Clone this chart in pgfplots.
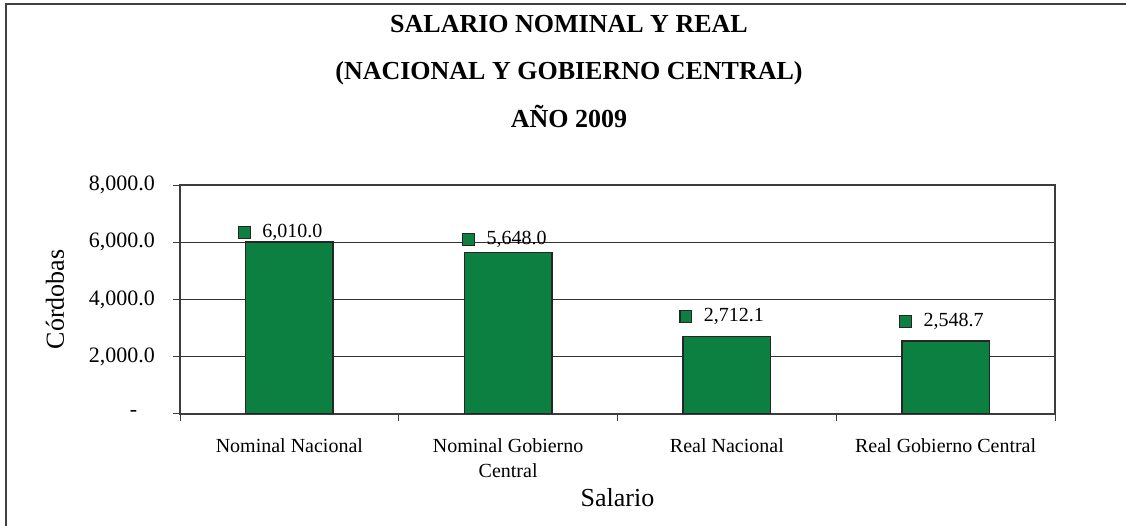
\documentclass[border=0pt]{standalone}
\usepackage{pgfplots}
\pgfplotsset{compat=1.18}
\usepackage{fontspec}
\setmainfont{Liberation Serif}
\definecolor{barg}{RGB}{11,128,64}
\definecolor{frm}{RGB}{60,60,60}
\newcommand{\keybox}{{\setlength{\fboxsep}{0pt}\setlength{\fboxrule}{1.3pt}\fcolorbox{black!85}{barg}{\phantom{\rule{10.5pt}{10.5pt}}}}}
\begin{document}
\begin{tikzpicture}[x=1pt,y=1pt]
\useasboundingbox (0,0) rectangle (1126,526);
\draw[black!75, line width=2.5pt] (6,-5) -- (6,522) -- (1131,522);
\node[anchor=base, font=\fontsize{26}{30}\selectfont\bfseries] at (569,493) {SALARIO NOMINAL Y REAL};
\node[anchor=base, font=\fontsize{26}{30}\selectfont\bfseries] at (569,446) {(NACIONAL Y GOBIERNO CENTRAL)};
\node[anchor=base, font=\fontsize{26}{30}\selectfont\bfseries] at (569,398) {AÑO 2009};
\begin{axis}[at={(180pt,112pt)}, anchor=south west, scale only axis,
  width=875pt, height=229pt,
  xmin=-0.5, xmax=3.5, ymin=0, ymax=8000,
  xtick={0,1,2,3},
  xticklabels={Nominal Nacional, {Nominal Gobierno\\Central}, Real Nacional, Real Gobierno Central},
  minor xtick={-0.5,0.5,1.5,2.5,3.5},
  ytick={0,2000,4000,6000,8000},
  yticklabels={{\makebox[25pt][l]{-}}, {2,000.0}, {4,000.0}, {6,000.0}, {8,000.0}},
  tick align=outside, xtick pos=left, ytick pos=left,
  major x tick style={draw=none},
  major tick length=7pt, minor tick length=7pt,
  ymajorgrids, grid style={black!80, line width=0.8pt},
  axis line style={frm, line width=1.2pt},
  tick style={frm, line width=1pt},
  xticklabel style={font=\fontsize{20}{25}\selectfont, align=center, inner sep=0pt, anchor=north, yshift=-17pt},
  yticklabel style={font=\fontsize{22}{26}\selectfont, inner sep=0pt, anchor=east, xshift=-18pt},
  xlabel={Salario}, ylabel={Córdobas},
  xlabel style={font=\fontsize{26}{30}\selectfont, at={(axis description cs:0.5,0)}, anchor=base, yshift=-93pt},
  ylabel style={font=\fontsize{26}{30}\selectfont, at={(axis description cs:0,0.5)}, anchor=center, yshift=125pt},
]
\addplot[ybar, bar width=0.4, fill=barg, draw=black!85, line width=1.3pt]
  coordinates {(0,6010) (1,5648) (2,2712.1) (3,2548.7)};
\addplot[draw=none, mark=none, nodes near coords={\llap{\keybox\hspace{11.5pt}}\pgfplotspointmeta},
  point meta=explicit symbolic,
  every node near coord/.append style={anchor=base, inner sep=0pt, font=\fontsize{20}{24}\selectfont}]
  table[meta=lab] {
x y lab
0.014 6151 6,010.0
1.039 5906 5,648.0
2.032 3220 2,712.1
3.037 3046 2,548.7
};
\end{axis}
\end{tikzpicture}
\end{document}
